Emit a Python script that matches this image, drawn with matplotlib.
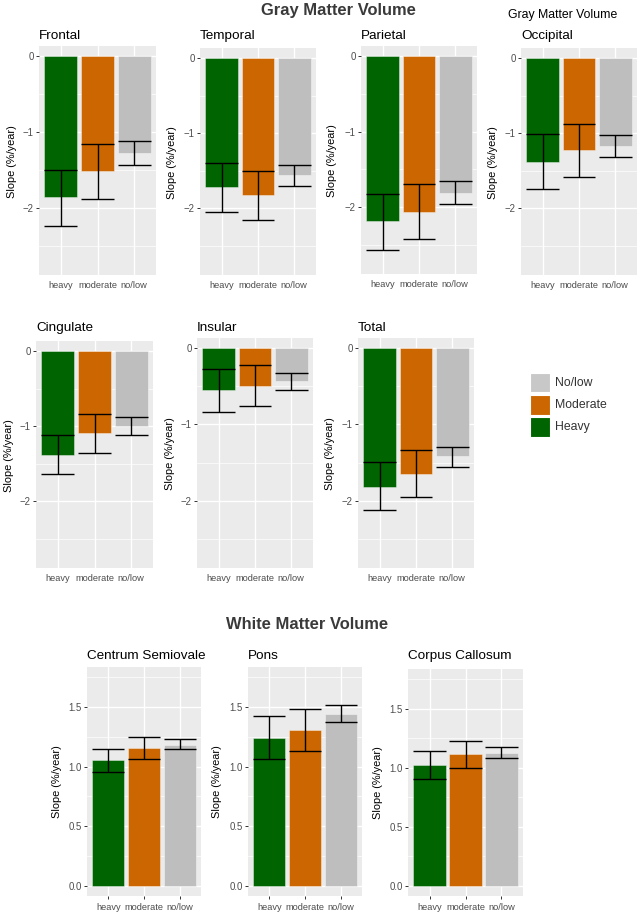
import matplotlib
matplotlib.use("Agg")
import matplotlib.pyplot as plt
from matplotlib.patches import Rectangle

plt.rcParams['font.family'] = ['Liberation Sans', 'DejaVu Sans']

# ---------------- data ----------------
groups = ["heavy", "moderate", "no/low"]
legend_labels = ["No/low", "Moderate", "Heavy"]
bar_colors = ["#006400", "#CC6600", "#BEBEBE"]
legend_colors = ["#C8C8C8", "#CC6600", "#006400"]

gm_regions = ["Frontal", "Temporal", "Parietal", "Occipital", "Cingulate", "Insular", "Total"]
gm_heavy_mean = [-1.86, -1.72, -2.19, -1.38, -1.38, -0.54, -1.82]
gm_heavy_hi = [-1.50, -1.39, -1.82, -1.01, -1.12, -0.27, -1.49]
gm_heavy_lo = [-2.24, -2.05, -2.57, -1.74, -1.64, -0.83, -2.13]
gm_mod_mean = [-1.52, -1.82, -2.06, -1.22, -1.09, -0.49, -1.65]
gm_mod_hi = [-1.16, -1.50, -1.70, -0.87, -0.83, -0.22, -1.33]
gm_mod_lo = [-1.89, -2.15, -2.42, -1.58, -1.35, -0.76, -1.96]
gm_low_mean = [-1.27, -1.56, -1.81, -1.17, -1.00, -0.43, -1.42]
gm_low_hi = [-1.12, -1.42, -1.65, -1.02, -0.88, -0.32, -1.29]
gm_low_lo = [-1.43, -1.70, -1.96, -1.32, -1.11, -0.54, -1.56]

wm_regions = ["Centrum Semiovale", "Pons", "Corpus Callosum"]
wm_heavy_mean = [1.053, 1.243, 1.020]
wm_heavy_hi = [1.150, 1.422, 1.138]
wm_heavy_lo = [0.958, 1.062, 0.904]
wm_mod_mean = [1.154, 1.305, 1.113]
wm_mod_hi = [1.249, 1.481, 1.229]
wm_mod_lo = [1.062, 1.129, 1.000]
wm_low_mean = [1.185, 1.444, 1.124]
wm_low_hi = [1.229, 1.520, 1.178]
wm_low_lo = [1.148, 1.372, 1.079]

gm_yticks = [0, -1, -2]
gm_yticklabels = ["0", "\u22121", "\u22122"]
wm_yticks = [0.0, 0.5, 1.0, 1.5]
wm_yticklabels = ["0.0", "0.5", "1.0", "1.5"]

# ---------------- layout ----------------
W, H = 644, 915
fig = plt.figure(figsize=(W / 100, H / 100), dpi=100)

def px_axes(x0, y0, x1, y1):
    return fig.add_axes([x0 / W, 1 - y1 / H, (x1 - x0) / W, (y1 - y0) / H])

gm_boxes = [
    (39, 46, 156, 275), (200, 48, 316, 275), (361, 46, 477, 274), (521, 48, 637, 275),
    (36, 341, 153, 568), (197, 338, 313, 568), (358, 338, 474, 568),
]
gm_title_y = [39, 39, 39, 39, 331, 331, 331]
gm_ylabel_x = [12, 172, 332, 493, 9, 170, 330]
wm_boxes = [(87, 667, 201, 896), (248, 667, 362, 896), (408, 669, 523, 896)]
wm_ylabel_x = [57, 217, 378]

TICK_GRAY = "#4D4D4D"


def style_panel(ax, ylim, yticks, yticklabels, minor, xticks_marks):
    ax.set_facecolor("#EBEBEB")
    for s in ax.spines.values():
        s.set_visible(False)
    ax.set_xlim(-0.6, 2.6)
    ax.set_ylim(*ylim)
    ax.set_yticks(yticks)
    ax.set_yticklabels(yticklabels)
    ax.set_yticks(minor, minor=True)
    ax.set_xticks(range(len(groups)))
    ax.set_xticklabels(groups)
    ax.grid(True, which="major", color="white", lw=1.0, zorder=0)
    ax.grid(True, which="minor", axis="y", color="white", lw=0.5, zorder=0)
    ax.set_axisbelow(True)
    ax.tick_params(axis="y", which="major", length=2.2, width=0.7, color="#333333",
                   labelsize=6.9, labelcolor=TICK_GRAY, pad=1.5)
    ax.tick_params(axis="y", which="minor", length=0)
    ax.tick_params(axis="x", length=2.2 if xticks_marks else 0, width=0.7, color="#333333",
                   labelsize=6.7, labelcolor=TICK_GRAY, pad=2.5 if xticks_marks else 4)


def draw_bars(ax, means, his, los):
    x = list(range(len(groups)))
    ax.bar(x, means, width=0.9, color=bar_colors, edgecolor=(1, 1, 1, 0.45), linewidth=0.6, zorder=2)
    for xi, hi, lo in zip(x, his, los):
        ax.plot([xi, xi], [lo, hi], color="black", lw=1.0, zorder=3, solid_capstyle="butt")
        ax.plot([xi - 0.45, xi + 0.45], [hi, hi], color="black", lw=1.0, zorder=3, solid_capstyle="butt")
        ax.plot([xi - 0.45, xi + 0.45], [lo, lo], color="black", lw=1.0, zorder=3, solid_capstyle="butt")


for i, reg in enumerate(gm_regions):
    ax = px_axes(*gm_boxes[i])
    means = [gm_heavy_mean[i], gm_mod_mean[i], gm_low_mean[i]]
    his = [gm_heavy_hi[i], gm_mod_hi[i], gm_low_hi[i]]
    los = [gm_heavy_lo[i], gm_mod_lo[i], gm_low_lo[i]]
    draw_bars(ax, means, his, los)
    style_panel(ax, (-2.8875, 0.1375), gm_yticks, gm_yticklabels, [-0.5, -1.5, -2.5], False)
    x0, y0, x1, y1 = gm_boxes[i]
    fig.text(x0 / W, 1 - gm_title_y[i] / H, reg, fontsize=9.7, color="black", ha="left", va="baseline")
    fig.text(gm_ylabel_x[i] / W, 1 - ((y0 + y1) / 2 + 1) / H, "Slope (%/year)", rotation=90,
             fontsize=7.9, color="black", ha="center", va="center")

for i, reg in enumerate(wm_regions):
    ax = px_axes(*wm_boxes[i])
    means = [wm_heavy_mean[i], wm_mod_mean[i], wm_low_mean[i]]
    his = [wm_heavy_hi[i], wm_mod_hi[i], wm_low_hi[i]]
    los = [wm_heavy_lo[i], wm_mod_lo[i], wm_low_lo[i]]
    draw_bars(ax, means, his, los)
    style_panel(ax, (-0.0875, 1.8375), wm_yticks, wm_yticklabels, [0.25, 0.75, 1.25, 1.75], True)
    x0, y0, x1, y1 = wm_boxes[i]
    fig.text(x0 / W, 1 - 659 / H, reg, fontsize=9.7, color="black", ha="left", va="baseline")
    fig.text(wm_ylabel_x[i] / W, 1 - ((y0 + y1) / 2) / H, "Slope (%/year)", rotation=90,
             fontsize=7.9, color="black", ha="center", va="center")

# titles
fig.text(338 / W, 1 - 15 / H, "Gray Matter Volume", fontsize=11.9, fontweight="bold",
         color="#3A3A3A", ha="center", va="baseline")
fig.text(508 / W, 1 - 18 / H, "Gray Matter Volume", fontsize=8.8, color="black",
         ha="left", va="baseline")
fig.text(307 / W, 1 - 629 / H, "White Matter Volume", fontsize=11.9, fontweight="bold",
         color="#3A3A3A", ha="center", va="baseline")

# legend
key_tops = [373, 395, 417]
for lab, col, top in zip(legend_labels, legend_colors, key_tops):
    fig.patches.append(Rectangle((530 / W, 1 - (top + 19.5) / H), 19.5 / W, 19.5 / H,
                                 transform=fig.transFigure, facecolor=col,
                                 edgecolor="white", lw=0.8))
    fig.text(555 / W, 1 - (top + 10) / H, lab, fontsize=8.8, color="#333333",
             ha="left", va="center")

fig.savefig("out.png", dpi=100, facecolor="white")
